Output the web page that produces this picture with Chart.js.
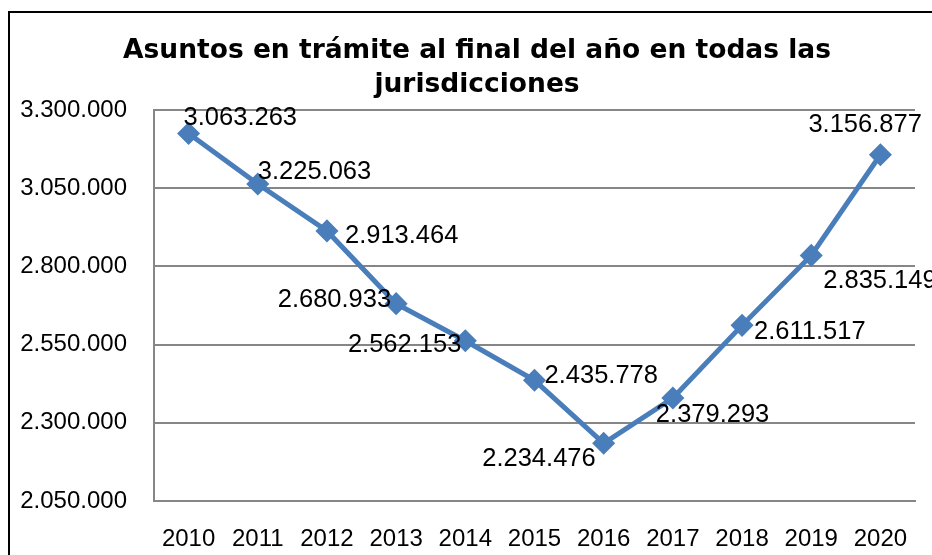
<!DOCTYPE html>
<html>
<head>
<meta charset="utf-8">
<script src="https://cdn.jsdelivr.net/npm/chart.js@4/dist/chart.umd.min.js"></script>
<style>
  html, body { margin: 0; padding: 0; background: #fff; }
  #wrap { width: 932px; height: 555px; position: relative; }
</style>
</head>
<body>
<div id="wrap"><canvas id="chart"></canvas></div>
<script>
const years = ["2010", "2011", "2012", "2013", "2014", "2015", "2016", "2017", "2018", "2019", "2020"];
const pending = [3225063, 3063263, 2913464, 2680933, 2562153, 2435778, 2234476, 2379293, 2611517, 2835149, 3156877];
// the labels as printed in the picture (2010 and 2011 appear swapped there)
const pointLabels = ["3.063.263", "3.225.063", "2.913.464", "2.680.933", "2.562.153", "2.435.778", "2.234.476", "2.379.293", "2.611.517", "2.835.149", "3.156.877"];
const yTicks = [2050000, 2300000, 2550000, 2800000, 3050000, 3300000];

// where each label sits relative to its point
const labelOffsets = [
    [-5, -15, "left"], [0, -12, "left"], [18, 5, "left"], [-5, -4, "right"],
    [-4, 4, "right"], [10, -4, "left"], [-8, 16, "right"], [-17, 17, "left"],
    [12, 7, "left"], [12, 26, "left"], [-72, -30, "left"]
];

const labelFont = "25.5px 'Liberation Sans', sans-serif";

function fmt(v) {
    return String(v).replace(/\B(?=(\d{3})+(?!\d))/g, ".");
}

const framePlugin = {
    id: "frame",
    beforeDraw(chart) {
        const ctx = chart.ctx;
        ctx.save();
        ctx.strokeStyle = "#000";
        ctx.lineWidth = 2;
        ctx.beginPath();
        ctx.moveTo(9, 555);
        ctx.lineTo(9, 12);
        ctx.lineTo(932, 12);
        ctx.stroke();

        ctx.fillStyle = "#000";
        ctx.font = "bold 26.5px 'DejaVu Sans', sans-serif";
        ctx.textAlign = "center";
        ctx.textBaseline = "middle";
        ctx.fillText("Asuntos en trámite al final del año en todas las", 477, 51);
        ctx.fillText("jurisdicciones", 477, 85);
        ctx.restore();
    }
};

const labelPlugin = {
    id: "pointLabels",
    afterDatasetsDraw(chart) {
        const ctx = chart.ctx;
        const meta = chart.getDatasetMeta(0);
        ctx.save();
        ctx.font = labelFont;
        ctx.fillStyle = "#000";
        ctx.textBaseline = "middle";
        meta.data.forEach((pt, i) => {
            const off = labelOffsets[i];
            ctx.textAlign = off[2];
            ctx.fillText(pointLabels[i], pt.x + off[0], pt.y + off[1]);
        });
        ctx.restore();
    }
};

new Chart(document.getElementById("chart"), {
    type: "line",
    data: {
        labels: years,
        datasets: [{
            data: pending,
            borderColor: "#4a7ebb",
            backgroundColor: "#4a7ebb",
            borderWidth: 5,
            pointStyle: "rectRot",
            pointRadius: 8,
            pointHoverRadius: 8,
            tension: 0,
            fill: false
        }]
    },
    options: {
        responsive: true,
        maintainAspectRatio: false,
        animation: false,
        layout: { padding: { left: 20, right: 17, top: 110, bottom: 0 } },
        plugins: {
            legend: { display: false },
            title: { display: false },
            tooltip: { enabled: false }
        },
        scales: {
            x: {
                offset: true,
                grid: { display: false, drawTicks: false },
                border: { display: true, color: "#868686", width: 2 },
                ticks: {
                    color: "#000",
                    font: { family: "'Liberation Sans', sans-serif", size: 24 },
                    padding: 24,
                    maxRotation: 0
                },
                afterFit(scale) { scale.height = 54; }
            },
            y: {
                min: 2050000,
                max: 3300000,
                afterBuildTicks(scale) { scale.ticks = yTicks.map(v => ({ value: v })); },
                grid: { color: "#868686", lineWidth: 2, drawTicks: false },
                border: { display: true, color: "#868686", width: 2 },
                ticks: {
                    color: "#000",
                    font: { family: "'Liberation Sans', sans-serif", size: 24 },
                    padding: 27,
                    callback: v => fmt(v)
                },
                afterFit(scale) { scale.width = 134; }
            }
        }
    },
    plugins: [framePlugin, labelPlugin]
});
</script>
</body>
</html>
